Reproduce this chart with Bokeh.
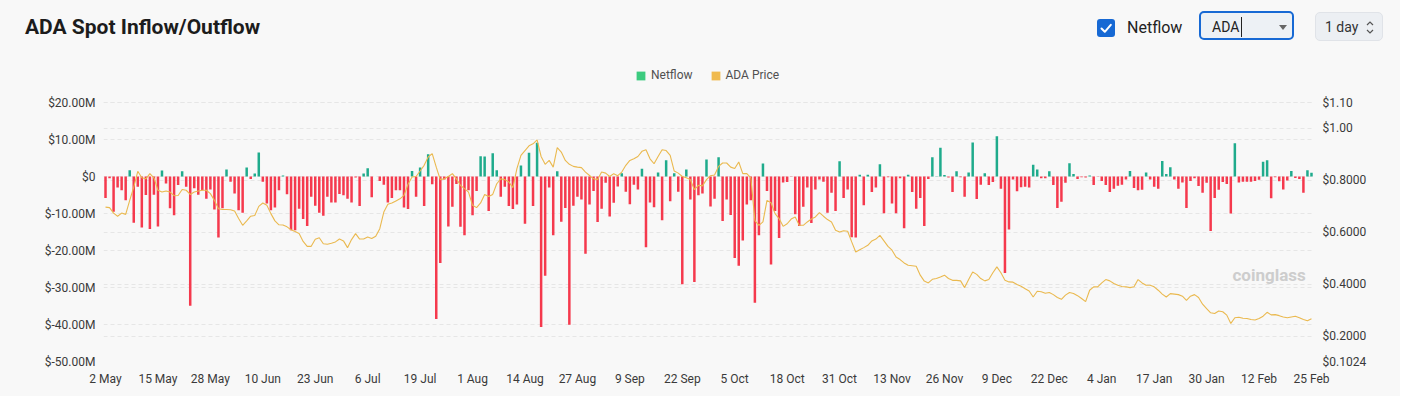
import pandas as pd
from bokeh.plotting import figure
from bokeh.layouts import column
from bokeh.models import (ColumnDataSource, Range1d, LinearAxis, FixedTicker, Grid,
                          Label, Legend, LegendItem, Div)
from bokeh.embed import file_html
from bokeh.resources import INLINE

# ---------------- data ----------------
dates = pd.date_range("2024-05-02", periods=300, freq="D")
day_labels = [f"{d.day} {d.strftime('%b')}" for d in dates]

tick_labels = ["2 May", "15 May", "28 May", "10 Jun", "23 Jun", "6 Jul", "19 Jul", "1 Aug",
               "14 Aug", "27 Aug", "9 Sep", "22 Sep", "5 Oct", "18 Oct", "31 Oct", "13 Nov",
               "26 Nov", "9 Dec", "22 Dec", "4 Jan", "17 Jan", "30 Jan", "12 Feb", "25 Feb"]

# Netflow in $M (one per day)
netflow = [
    -5.8, -0.5, -9.5, -3.0, -3.7, -6.4, 1.7, -12.5, -2.8, -13.8,
    -5.0, -14.2, -4.9, -13.5, 1.6, -1.9, -8.6, -10.5, -2.3, 1.4,
    -2.8, -34.9, -3.2, -4.9, -3.7, -6.0, -3.5, -8.9, -16.5, -8.6,
    1.9, -1.4, -4.6, -9.1, -9.8, 2.4, -0.7, 0.8, 6.5, -1.4,
    -7.3, -9.1, -8.4, -3.7, 0.3, -4.8, -14.5, -14.5, -8.7, -11.5,
    -13.4, -5.5, -7.9, -9.8, -10.6, -5.5, -7.0, -7.0, -4.7, -5.1,
    -6.0, -7.0, -0.3, -8.0, 0.8, 2.2, -5.6, 0.0, -1.2, -2.2,
    -7.0, -5.8, -3.7, -3.7, -8.4, -8.8, 1.5, -5.5, 2.4, -8.0,
    6.0, -2.1, -38.5, -23.4, -0.8, -13.5, -8.2, -2.0, -13.6, -15.9,
    -3.7, -10.5, -3.9, 5.5, 5.4, -9.3, 6.3, 1.7, -5.5, -2.8,
    -8.0, -8.8, -7.6, 3.0, -12.8, 6.4, -8.0, 9.1, -40.7, -26.8,
    -3.0, -15.9, 1.4, -12.2, -8.5, -40.1, -7.9, -5.5, -6.2, -20.9,
    -7.6, -3.9, -12.3, -8.7, -1.7, -10.8, -7.1, -2.7, 0.9, -4.1,
    -7.5, -2.2, -3.5, 2.1, -19.1, -7.0, -8.3, 1.1, -11.8, 4.4,
    -6.7, 0.9, -4.1, -29.1, 1.9, -6.2, -28.5, -5.1, -4.6, 4.6,
    -8.1, -6.0, 5.2, -12.0, -6.2, -10.4, -22.0, -24.1, -17.3, -7.6,
    -6.4, -34.1, -15.9, 3.5, -3.9, -23.8, -9.3, -16.6, -1.6, -1.5,
    -0.1, -10.2, -13.4, -8.2, -3.0, -12.6, -3.5, -0.8, -1.4, -9.8,
    -4.4, -9.3, 4.1, -5.8, -3.5, -16.4, -16.5, 0.5, -7.8, 0.5,
    -4.2, -3.0, 3.3, -9.9, -0.2, -7.3, -9.9, -0.5, -14.0, 0.5,
    -4.2, -8.7, -5.8, -13.4, -0.7, 5.2, 0.1, 7.8, 0.4, -0.3,
    -4.2, 1.4, -0.2, -5.5, 1.1, 9.2, -6.1, -2.2, 0.9, -2.3,
    -1.5, 10.9, -3.3, -26.1, -14.3, -0.8, -4.0, -2.9, -2.8, -3.0,
    3.2, 1.9, -0.5, -0.5, 1.4, -2.3, -8.5, -6.8, -1.7, 3.6,
    0.7, -0.7, -0.2, -0.3, 0.3, -2.3, -0.1, -1.2, -2.3, -4.2,
    -3.3, -2.5, -2.2, -0.8, 1.5, -3.1, -3.7, -3.6, 1.1, -0.8,
    -2.8, -3.3, 4.2, 0.7, 2.5, -0.8, -3.3, -1.6, -8.5, -1.2,
    -0.5, -2.6, -4.4, -1.7, -14.7, -5.8, -3.6, -1.5, -2.0, -10.0,
    9.0, -1.6, -1.4, -1.4, -1.4, -1.2, -0.9, 4.0, 4.4, -5.9,
    -0.2, -1.3, -3.5, -1.1, 1.5, -0.4, -0.7, -4.4, 1.7, 1.0,
]

# ADA price in $ (one per day)
price = [
    0.697, 0.695, 0.674, 0.662, 0.674, 0.669, 0.723, 0.774, 0.835, 0.810,
    0.806, 0.826, 0.810, 0.762, 0.755, 0.759, 0.755, 0.741, 0.742, 0.765,
    0.762, 0.746, 0.755, 0.759, 0.762, 0.762, 0.749, 0.723, 0.691, 0.688,
    0.688, 0.687, 0.682, 0.653, 0.627, 0.644, 0.662, 0.665, 0.700, 0.713,
    0.704, 0.672, 0.644, 0.629, 0.628, 0.621, 0.610, 0.603, 0.595, 0.565,
    0.546, 0.546, 0.573, 0.579, 0.556, 0.554, 0.558, 0.563, 0.574, 0.567,
    0.541, 0.572, 0.595, 0.574, 0.574, 0.582, 0.576, 0.585, 0.614, 0.678,
    0.708, 0.713, 0.721, 0.729, 0.742, 0.785, 0.813, 0.815, 0.836, 0.858,
    0.890, 0.903, 0.851, 0.803, 0.806, 0.815, 0.826, 0.806, 0.781, 0.768,
    0.755, 0.704, 0.695, 0.713, 0.746, 0.738, 0.746, 0.787, 0.806, 0.803,
    0.794, 0.772, 0.845, 0.896, 0.915, 0.933, 0.941, 0.956, 0.892, 0.862,
    0.877, 0.851, 0.926, 0.909, 0.877, 0.862, 0.854, 0.851, 0.849, 0.832,
    0.819, 0.806, 0.803, 0.832, 0.828, 0.815, 0.826, 0.818, 0.832, 0.858,
    0.877, 0.883, 0.892, 0.912, 0.918, 0.883, 0.864, 0.892, 0.918, 0.915,
    0.896, 0.836, 0.828, 0.815, 0.810, 0.803, 0.764, 0.781, 0.779, 0.803,
    0.818, 0.821, 0.854, 0.867, 0.867, 0.851, 0.846, 0.871, 0.826, 0.826,
    0.810, 0.645, 0.627, 0.640, 0.723, 0.714, 0.672, 0.653, 0.623, 0.633,
    0.651, 0.659, 0.627, 0.627, 0.640, 0.651, 0.659, 0.676, 0.662, 0.649,
    0.640, 0.608, 0.601, 0.606, 0.604, 0.563, 0.524, 0.533, 0.541, 0.550,
    0.567, 0.574, 0.588, 0.567, 0.546, 0.531, 0.505, 0.495, 0.482, 0.473,
    0.471, 0.469, 0.435, 0.412, 0.405, 0.419, 0.422, 0.428, 0.435, 0.422,
    0.415, 0.415, 0.413, 0.387, 0.418, 0.447, 0.438, 0.422, 0.413, 0.418,
    0.444, 0.467, 0.444, 0.415, 0.409, 0.408, 0.399, 0.392, 0.383, 0.374,
    0.351, 0.373, 0.371, 0.365, 0.368, 0.360, 0.349, 0.342, 0.358, 0.368,
    0.364, 0.356, 0.345, 0.333, 0.377, 0.390, 0.390, 0.405, 0.418, 0.413,
    0.403, 0.396, 0.391, 0.390, 0.387, 0.390, 0.418, 0.405, 0.396, 0.396,
    0.390, 0.377, 0.362, 0.351, 0.364, 0.362, 0.360, 0.354, 0.338, 0.354,
    0.360, 0.349, 0.323, 0.306, 0.290, 0.287, 0.297, 0.294, 0.281, 0.249,
    0.271, 0.273, 0.269, 0.268, 0.264, 0.262, 0.268, 0.277, 0.292, 0.282,
    0.283, 0.279, 0.274, 0.271, 0.274, 0.277, 0.271, 0.264, 0.259, 0.267,
]

left_ticks = [-50, -40, -30, -20, -10, 0, 10, 20]
left_tick_labels = ["$-50.00M", "$-40.00M", "$-30.00M", "$-20.00M", "$-10.00M", "$0",
                    "$10.00M", "$20.00M"]
right_ticks = [0.1024, 0.2, 0.4, 0.6, 0.8, 1.0, 1.1]
right_tick_labels = ["$0.1024", "$0.2000", "$0.4000", "$0.6000", "$0.8000", "$1.00", "$1.10"]

# ---------------- styles / layout ----------------
BG = "#f8f8f8"
GREEN = "#1fab8c"
RED = "#f5394d"
GOLD = "#eab94f"
LEG_GREEN = "#3ccb7f"
LEG_GOLD = "#f0ba4e"
FONT = "Roboto"
TXT = "#3a3a3a"
W = 1400
HEAD_H = 45
MAIN_H = 351
PLOT_H = 259          # height of the value area (from top tick to bottom tick)
TOP_PAD = 57          # room above the top tick that holds the legend
BOTTOM_B = MAIN_H - PLOT_H - TOP_PAD

# ---------------- header (title + controls) as HTML ----------------
header_html = f"""
<div style="position:relative;width:{W}px;height:{HEAD_H + 1}px;background:{BG};
            font-family:Roboto, sans-serif;overflow:hidden;">
  <div style="position:absolute;left:25px;top:15px;font-size:21px;line-height:24px;
              font-weight:700;color:#1c1c1c;white-space:nowrap;">ADA Spot Inflow/Outflow</div>
  <svg style="position:absolute;left:1097px;top:19px;" width="18" height="18">
    <rect x="0" y="0" width="18" height="18" rx="3" fill="#1769d4"/>
    <path d="M4.5 9.5 L7.8 12.8 L13.8 5.8" stroke="white" stroke-width="2" fill="none"
          stroke-linecap="round" stroke-linejoin="round"/>
  </svg>
  <div style="position:absolute;left:1127px;top:18px;font-size:16px;line-height:20px;
              color:#222;white-space:nowrap;">Netflow</div>
  <div style="position:absolute;left:1199px;top:11px;width:95px;height:29px;
              border:2px solid #1769d4;border-radius:5px;background:#edf1f5;">
    <span style="position:absolute;left:11px;top:6px;font-size:14px;line-height:17px;
                 color:#222;">ADA</span>
    <span style="position:absolute;left:40px;top:4px;width:1px;height:20px;
                 background:#222;"></span>
    <svg style="position:absolute;left:78px;top:12px;" width="8" height="5">
      <path d="M0 0 L8 0 L4 5 Z" fill="#666"/>
    </svg>
  </div>
  <div style="position:absolute;left:1315px;top:12px;width:68px;height:29px;
              border:1px solid #e0e3e8;border-radius:5px;background:#eceff3;">
    <span style="position:absolute;left:9px;top:6px;font-size:14px;line-height:17px;
                 color:#333;white-space:nowrap;">1 day</span>
    <svg style="position:absolute;left:50px;top:7px;" width="8" height="15">
      <path d="M1 5 L4 2 L7 5" stroke="#555" stroke-width="1.2" fill="none"/>
      <path d="M1 10 L4 13 L7 10" stroke="#555" stroke-width="1.2" fill="none"/>
    </svg>
  </div>
</div>
"""
head = Div(text=header_html, width=W, height=HEAD_H, margin=0,
           styles={"background-color": BG})

# ---------------- main chart ----------------
day_index = list(range(len(netflow)))
colors = [GREEN if v > 0 else RED for v in netflow]
src = ColumnDataSource(dict(x=day_index, net=netflow, price=price, color=colors,
                            label=day_labels))

lo, hi = left_ticks[0], left_ticks[-1]
plo, phi = right_ticks[0], right_ticks[-1]
hi_ext = hi + TOP_PAD * (hi - lo) / PLOT_H
phi_ext = phi + TOP_PAD * (phi - plo) / PLOT_H

p = figure(width=W, height=MAIN_H, output_backend="svg", toolbar_location=None,
           x_range=Range1d(-0.5, len(netflow) - 0.5), y_range=Range1d(lo, hi_ext),
           min_border_left=103, min_border_right=W - 103 - 1210, min_border_top=0,
           min_border_bottom=BOTTOM_B,
           background_fill_color=BG, border_fill_color=BG, outline_line_color=None)
p.extra_y_ranges = {"price": Range1d(plo, phi_ext)}

bars = p.vbar(x="x", top="net", bottom=0, width=0.62, fill_color="color", line_color=None,
              source=src)
pline = p.line(x="x", y="price", y_range_name="price", line_color=GOLD, line_width=1.1,
               source=src)

xt = FixedTicker(ticks=list(range(0, len(netflow), 13)))
p.xaxis.ticker = xt
p.xaxis.major_label_overrides = {t: lab for t, lab in zip(xt.ticks, tick_labels)}

lt = FixedTicker(ticks=left_ticks)
p.yaxis.ticker = lt
p.yaxis.major_label_overrides = dict(zip(left_ticks, left_tick_labels))

rt = FixedTicker(ticks=right_ticks)
raxis = LinearAxis(y_range_name="price", ticker=rt)
raxis.major_label_overrides = dict(zip(right_ticks, right_tick_labels))
p.add_layout(raxis, "right")

for ax in [p.xaxis[0], p.yaxis[0], raxis]:
    ax.axis_line_color = None
    ax.major_tick_line_color = None
    ax.minor_tick_line_color = None
    ax.major_tick_out = 0
    ax.major_tick_in = 0
    ax.minor_tick_out = 0
    ax.major_label_text_font = FONT
    ax.major_label_text_font_size = "12px"
    ax.major_label_text_color = TXT
p.xaxis.major_label_standoff = 10
p.yaxis.major_label_standoff = 8
raxis.major_label_standoff = 9

p.xgrid.visible = False
p.ygrid.ticker = lt
p.ygrid.grid_line_color = "#e6e6e6"
p.ygrid.grid_line_dash = "4 3"
p.add_layout(Grid(dimension=1, ticker=rt, y_range_name="price", grid_line_color="#e6e6e6",
                  grid_line_dash="4 3"))

# legend: square swatches (dummy renderers holding one NaN point, nothing drawn in the plot)
nan = float("nan")
r_leg1 = p.rect(x=[nan], y=[nan], width=1, height=1, fill_color=LEG_GREEN, line_color=None)
r_leg2 = p.rect(x=[nan], y=[nan], width=1, height=1, fill_color=LEG_GOLD, line_color=None)
legend = Legend(items=[LegendItem(label="Netflow", renderers=[r_leg1]),
                       LegendItem(label="ADA Price", renderers=[r_leg2])],
                orientation="horizontal", location=(532, 279),
                glyph_width=11, glyph_height=11, label_standoff=5, spacing=17,
                padding=0, margin=0, background_fill_alpha=0, border_line_alpha=0,
                label_text_font=FONT, label_text_font_size="12px",
                label_text_color="#505050", label_height=11)
p.add_layout(legend, "center")

# watermark (frame-relative screen position)
p.add_layout(Label(x=1129, y=87, x_units="screen", y_units="screen", text="coinglass",
                   text_font=FONT, text_font_size="17px", text_font_style="bold",
                   text_color="#cdcdcd", text_baseline="middle"))

layout = column(head, p, spacing=0, styles={"background-color": BG})
open("out.html", "w").write(file_html(layout, INLINE))
